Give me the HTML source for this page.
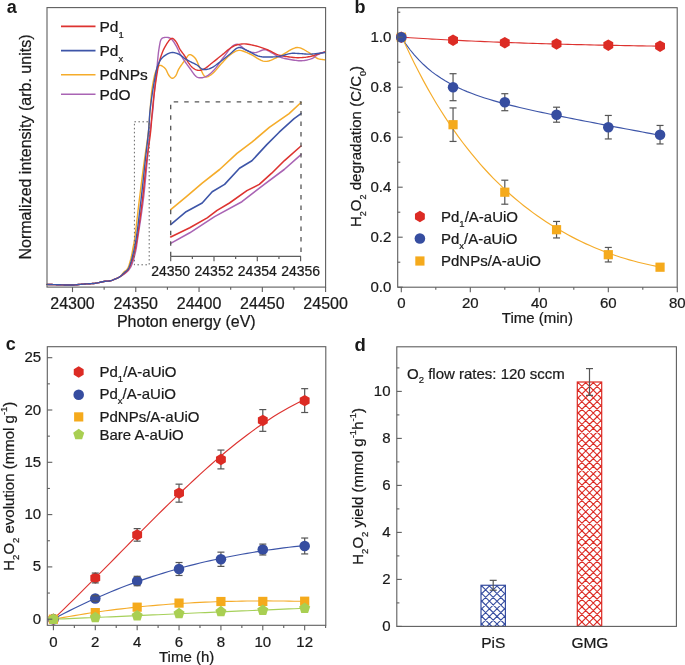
<!DOCTYPE html>
<html><head><meta charset="utf-8"><style>
html,body{margin:0;padding:0;background:#fff;width:685px;height:665px;overflow:hidden}
#w{will-change:transform;width:685px;height:665px;background:#fff}
svg{display:block}
text{font-family:"Liberation Sans",sans-serif;stroke:#1a1a1a;stroke-width:0.22px}
</style></head><body><div id="w">
<svg width="685" height="665" viewBox="0 0 685 665" font-family="Liberation Sans" fill="#1a1a1a">
<rect width="685" height="665" fill="#fff"/>
<text x="6.7" y="12.8" font-size="18" text-anchor="start" font-weight="bold" style="stroke-width:0" >a</text>
<path d="M47,284.4 L48.63,284.45 L50.26,284.5 L51.9,284.56 L53.53,284.61 L55.16,284.66 L56.79,284.71 L58.4,284.76 L60,284.8 L61.52,284.84 L63.02,284.89 L64.51,284.94 L66,284.98 L67.49,285.02 L68.98,285.03 L70.48,285.03 L72,285 L73.61,284.93 L75.25,284.83 L76.91,284.71 L78.57,284.56 L80.23,284.41 L81.86,284.26 L83.45,284.12 L85,284 L86.31,283.91 L87.59,283.84 L88.85,283.78 L90.09,283.72 L91.31,283.65 L92.54,283.56 L93.76,283.45 L95,283.3 L96.28,283.1 L97.59,282.85 L98.9,282.57 L100.22,282.28 L101.5,281.98 L102.74,281.71 L103.91,281.48 L105,281.3 L105.71,281.22 L106.37,281.17 L107,281.14 L107.61,281.13 L108.21,281.11 L108.8,281.07 L109.39,281 L110,280.9 L110.62,280.75 L111.24,280.58 L111.85,280.39 L112.47,280.17 L113.08,279.95 L113.69,279.7 L114.29,279.45 L114.9,279.2 L115.54,278.94 L116.18,278.67 L116.83,278.4 L117.47,278.12 L118.11,277.81 L118.73,277.48 L119.33,277.11 L119.9,276.7 L120.47,276.21 L121.02,275.65 L121.54,275.04 L122.04,274.41 L122.53,273.77 L123.02,273.14 L123.51,272.55 L124,272 L124.43,271.59 L124.86,271.23 L125.29,270.89 L125.71,270.56 L126.13,270.21 L126.54,269.83 L126.93,269.4 L127.3,268.9 L127.81,268.03 L128.28,267.04 L128.72,265.96 L129.13,264.79 L129.52,263.57 L129.89,262.32 L130.25,261.05 L130.6,259.8 L130.98,258.33 L131.34,256.78 L131.67,255.17 L131.98,253.53 L132.28,251.91 L132.56,250.33 L132.83,248.81 L133.1,247.4 L133.29,246.43 L133.47,245.56 L133.64,244.75 L133.8,243.96 L133.97,243.13 L134.13,242.23 L134.31,241.2 L134.5,240 L135,236.52 L135.54,232.21 L136.14,227.27 L136.76,221.9 L137.4,216.29 L138.04,210.64 L138.68,205.14 L139.3,200 L139.88,195.29 L140.46,190.59 L141.05,185.92 L141.63,181.27 L142.22,176.65 L142.81,172.06 L143.4,167.51 L144,163 L144.59,158.75 L145.21,154.48 L145.85,150.21 L146.48,145.99 L147.09,141.84 L147.66,137.8 L148.17,133.91 L148.6,130.2 L148.87,127.45 L149.09,124.84 L149.27,122.33 L149.43,119.88 L149.58,117.45 L149.73,115.02 L149.9,112.55 L150.1,110 L150.33,107.19 L150.55,104.3 L150.77,101.38 L151.01,98.44 L151.27,95.53 L151.57,92.66 L151.91,89.87 L152.3,87.2 L152.67,84.93 L153.06,82.64 L153.48,80.37 L153.92,78.16 L154.4,76.04 L154.92,74.07 L155.48,72.27 L156.1,70.7 L156.5,69.8 L156.91,68.91 L157.33,68.06 L157.77,67.28 L158.24,66.6 L158.73,66.04 L159.24,65.63 L159.8,65.4 L160.39,65.37 L161.05,65.52 L161.74,65.81 L162.46,66.22 L163.17,66.71 L163.86,67.26 L164.51,67.83 L165.1,68.4 L165.7,69.13 L166.22,69.99 L166.7,70.94 L167.15,71.94 L167.59,72.94 L168.03,73.9 L168.49,74.77 L169,75.5 L169.39,75.98 L169.8,76.47 L170.21,76.93 L170.62,77.36 L171.04,77.73 L171.46,78.02 L171.88,78.22 L172.3,78.3 L172.7,78.26 L173.11,78.12 L173.53,77.89 L173.94,77.59 L174.35,77.24 L174.75,76.84 L175.14,76.43 L175.5,76 L175.96,75.36 L176.36,74.61 L176.72,73.79 L177.08,72.9 L177.43,71.98 L177.81,71.04 L178.22,70.11 L178.7,69.2 L179.37,68.09 L180.1,66.93 L180.9,65.75 L181.72,64.55 L182.57,63.37 L183.41,62.22 L184.23,61.12 L185,60.1 L185.59,59.27 L186.15,58.39 L186.7,57.51 L187.25,56.66 L187.81,55.9 L188.38,55.28 L188.97,54.83 L189.6,54.6 L190.24,54.6 L190.91,54.78 L191.61,55.11 L192.32,55.56 L193.03,56.1 L193.72,56.7 L194.38,57.35 L195,58 L195.74,58.96 L196.4,60.08 L197.02,61.33 L197.6,62.66 L198.17,64.04 L198.75,65.41 L199.35,66.75 L200,68 L200.66,69.25 L201.31,70.61 L201.98,72 L202.65,73.36 L203.36,74.61 L204.09,75.66 L204.87,76.45 L205.7,76.9 L206.41,77 L207.16,76.9 L207.93,76.64 L208.73,76.25 L209.54,75.76 L210.36,75.2 L211.18,74.6 L212,74 L213.21,73 L214.46,71.77 L215.72,70.38 L217,68.88 L218.27,67.33 L219.54,65.8 L220.79,64.34 L222,63 L223.02,61.91 L224.01,60.82 L224.99,59.75 L225.95,58.71 L226.92,57.7 L227.91,56.74 L228.94,55.84 L230,55 L231.03,54.24 L232.08,53.48 L233.14,52.74 L234.23,52.05 L235.34,51.45 L236.47,50.95 L237.62,50.59 L238.8,50.4 L240.11,50.4 L241.45,50.61 L242.82,50.99 L244.22,51.49 L245.63,52.08 L247.07,52.72 L248.53,53.37 L250,54 L251.79,54.85 L253.62,55.92 L255.48,57.1 L257.37,58.31 L259.27,59.43 L261.18,60.39 L263.1,61.08 L265,61.4 L266.85,61.34 L268.71,60.98 L270.57,60.39 L272.44,59.62 L274.31,58.74 L276.2,57.8 L278.09,56.87 L280,56 L282.14,54.96 L284.33,53.69 L286.56,52.31 L288.79,50.92 L290.99,49.63 L293.15,48.56 L295.23,47.81 L297.2,47.5 L298.67,47.58 L300.09,47.89 L301.47,48.38 L302.82,49.01 L304.14,49.73 L305.44,50.5 L306.72,51.27 L308,52 L309.26,52.75 L310.49,53.61 L311.7,54.52 L312.9,55.45 L314.08,56.36 L315.26,57.2 L316.43,57.93 L317.6,58.5 L318.54,58.84 L319.47,59.09 L320.4,59.28 L321.32,59.41 L322.24,59.53 L323.16,59.63 L324.08,59.75 L325,59.9" fill="none" stroke="#f5ac2a" stroke-width="1.4" stroke-linejoin="round" stroke-linecap="round" />
<path d="M47,284.4 L48.63,284.45 L50.26,284.5 L51.9,284.56 L53.53,284.61 L55.16,284.66 L56.79,284.71 L58.4,284.76 L60,284.8 L61.52,284.84 L63.02,284.89 L64.51,284.94 L66,284.98 L67.49,285.02 L68.98,285.03 L70.48,285.03 L72,285 L73.61,284.93 L75.25,284.83 L76.91,284.71 L78.57,284.56 L80.23,284.41 L81.86,284.26 L83.45,284.12 L85,284 L86.31,283.91 L87.59,283.84 L88.85,283.78 L90.09,283.72 L91.31,283.65 L92.54,283.56 L93.76,283.45 L95,283.3 L96.28,283.1 L97.59,282.85 L98.9,282.57 L100.22,282.28 L101.5,281.98 L102.74,281.71 L103.91,281.48 L105,281.3 L105.71,281.22 L106.37,281.17 L107,281.14 L107.61,281.13 L108.21,281.11 L108.8,281.07 L109.39,281 L110,280.9 L110.62,280.75 L111.24,280.58 L111.85,280.39 L112.47,280.17 L113.08,279.95 L113.69,279.7 L114.29,279.45 L114.9,279.2 L115.53,278.93 L116.16,278.64 L116.79,278.34 L117.41,278.03 L118.04,277.71 L118.66,277.38 L119.28,277.05 L119.9,276.7 L120.55,276.33 L121.21,275.95 L121.88,275.56 L122.54,275.16 L123.19,274.75 L123.82,274.34 L124.43,273.92 L125,273.5 L125.46,273.14 L125.91,272.79 L126.34,272.44 L126.75,272.09 L127.15,271.72 L127.54,271.34 L127.92,270.93 L128.3,270.5 L128.72,269.98 L129.13,269.46 L129.53,268.91 L129.92,268.34 L130.29,267.73 L130.67,267.08 L131.03,266.37 L131.4,265.6 L131.98,264.2 L132.56,262.6 L133.13,260.85 L133.69,258.99 L134.22,257.08 L134.72,255.16 L135.18,253.28 L135.6,251.5 L135.93,249.97 L136.21,248.52 L136.44,247.11 L136.66,245.7 L136.87,244.23 L137.08,242.67 L137.32,240.98 L137.6,239.1 L138.19,235.25 L138.88,230.84 L139.62,226 L140.4,220.86 L141.18,215.55 L141.95,210.22 L142.66,204.99 L143.3,200 L143.85,195.32 L144.36,190.63 L144.84,185.96 L145.29,181.3 L145.72,176.67 L146.15,172.07 L146.57,167.51 L147,163 L147.4,158.75 L147.79,154.47 L148.17,150.21 L148.54,145.98 L148.92,141.83 L149.3,137.79 L149.69,133.9 L150.1,130.2 L150.45,127.4 L150.82,124.69 L151.21,122.04 L151.6,119.48 L151.97,116.99 L152.32,114.58 L152.64,112.25 L152.9,110 L153.06,108.37 L153.18,106.86 L153.28,105.43 L153.37,104.03 L153.45,102.62 L153.54,101.14 L153.66,99.55 L153.8,97.8 L154.08,94.77 L154.42,91.39 L154.8,87.76 L155.2,83.98 L155.61,80.13 L156.03,76.33 L156.43,72.65 L156.8,69.2 L157.09,66.35 L157.36,63.49 L157.62,60.66 L157.88,57.89 L158.15,55.22 L158.43,52.67 L158.75,50.29 L159.1,48.1 L159.33,46.72 L159.55,45.35 L159.77,44.04 L160,42.79 L160.26,41.64 L160.57,40.6 L160.95,39.72 L161.4,39 L161.71,38.66 L162.04,38.38 L162.38,38.14 L162.75,37.95 L163.13,37.8 L163.53,37.68 L163.96,37.58 L164.4,37.5 L165.05,37.42 L165.77,37.37 L166.55,37.37 L167.35,37.42 L168.15,37.53 L168.95,37.71 L169.7,37.96 L170.4,38.3 L171.17,38.84 L171.89,39.52 L172.58,40.32 L173.24,41.21 L173.88,42.16 L174.5,43.15 L175.1,44.14 L175.7,45.1 L176.32,46.15 L176.9,47.25 L177.45,48.4 L177.99,49.56 L178.52,50.73 L179.06,51.88 L179.62,53.01 L180.2,54.1 L180.77,55.09 L181.35,56.05 L181.95,57 L182.55,57.94 L183.15,58.86 L183.76,59.78 L184.38,60.69 L185,61.6 L185.61,62.48 L186.21,63.35 L186.82,64.2 L187.44,65.05 L188.06,65.9 L188.7,66.76 L189.34,67.62 L190,68.5 L190.74,69.53 L191.5,70.64 L192.28,71.78 L193.06,72.92 L193.86,74.01 L194.65,75 L195.43,75.85 L196.2,76.5 L196.67,76.82 L197.13,77.08 L197.59,77.29 L198.05,77.46 L198.51,77.59 L198.99,77.69 L199.48,77.76 L200,77.8 L200.68,77.81 L201.4,77.78 L202.14,77.69 L202.9,77.55 L203.68,77.37 L204.46,77.13 L205.23,76.84 L206,76.5 L206.99,75.97 L207.99,75.33 L209,74.6 L210.01,73.79 L211.02,72.91 L212.03,71.97 L213.02,71 L214,70 L215.15,68.72 L216.28,67.32 L217.38,65.83 L218.48,64.28 L219.59,62.7 L220.7,61.11 L221.83,59.53 L223,58 L224.27,56.34 L225.58,54.56 L226.93,52.72 L228.29,50.9 L229.63,49.19 L230.95,47.67 L232.21,46.41 L233.4,45.5 L234,45.15 L234.58,44.85 L235.14,44.62 L235.69,44.45 L236.25,44.34 L236.81,44.29 L237.39,44.31 L238,44.4 L238.91,44.72 L239.86,45.27 L240.83,46.01 L241.83,46.86 L242.85,47.74 L243.88,48.61 L244.94,49.38 L246,50 L247.05,50.49 L248.11,50.97 L249.2,51.4 L250.29,51.79 L251.41,52.12 L252.53,52.37 L253.66,52.54 L254.8,52.6 L256.05,52.47 L257.35,52.12 L258.66,51.62 L259.99,51.06 L261.3,50.51 L262.58,50.05 L263.82,49.75 L265,49.7 L265.95,49.85 L266.86,50.14 L267.73,50.53 L268.59,50.99 L269.43,51.49 L270.27,52.02 L271.13,52.53 L272,53 L272.93,53.49 L273.85,54 L274.76,54.53 L275.68,55.07 L276.62,55.6 L277.58,56.1 L278.57,56.58 L279.6,57 L280.8,57.42 L282.04,57.8 L283.32,58.15 L284.63,58.46 L285.96,58.75 L287.31,59.02 L288.66,59.26 L290,59.5 L291.41,59.74 L292.84,59.98 L294.29,60.21 L295.74,60.41 L297.2,60.57 L298.65,60.68 L300.09,60.73 L301.5,60.7 L302.86,60.6 L304.25,60.45 L305.63,60.25 L307,59.99 L308.34,59.69 L309.63,59.33 L310.86,58.94 L312,58.5 L312.86,58.08 L313.64,57.61 L314.38,57.08 L315.09,56.53 L315.79,55.98 L316.49,55.45 L317.22,54.94 L318,54.5 L318.83,54.1 L319.69,53.75 L320.56,53.42 L321.44,53.11 L322.34,52.81 L323.23,52.52 L324.12,52.21 L325,51.9" fill="none" stroke="#a964b4" stroke-width="1.4" stroke-linejoin="round" stroke-linecap="round" />
<path d="M47,284.4 L48.63,284.45 L50.26,284.5 L51.9,284.56 L53.53,284.61 L55.16,284.66 L56.79,284.71 L58.4,284.76 L60,284.8 L61.52,284.84 L63.02,284.89 L64.51,284.94 L66,284.98 L67.49,285.02 L68.98,285.03 L70.48,285.03 L72,285 L73.61,284.93 L75.25,284.83 L76.91,284.71 L78.57,284.56 L80.23,284.41 L81.86,284.26 L83.45,284.12 L85,284 L86.31,283.91 L87.59,283.84 L88.85,283.78 L90.09,283.72 L91.31,283.65 L92.54,283.56 L93.76,283.45 L95,283.3 L96.28,283.1 L97.59,282.85 L98.9,282.57 L100.22,282.28 L101.5,281.98 L102.74,281.71 L103.91,281.48 L105,281.3 L105.71,281.22 L106.37,281.17 L107,281.14 L107.61,281.13 L108.21,281.11 L108.8,281.07 L109.39,281 L110,280.9 L110.62,280.75 L111.24,280.58 L111.85,280.39 L112.47,280.17 L113.08,279.95 L113.69,279.7 L114.29,279.45 L114.9,279.2 L115.53,278.93 L116.16,278.65 L116.8,278.36 L117.43,278.06 L118.05,277.74 L118.67,277.41 L119.29,277.07 L119.9,276.7 L120.54,276.29 L121.18,275.85 L121.82,275.39 L122.45,274.91 L123.07,274.42 L123.67,273.94 L124.25,273.46 L124.8,273 L125.25,272.63 L125.68,272.28 L126.09,271.94 L126.5,271.6 L126.89,271.24 L127.27,270.86 L127.64,270.45 L128,270 L128.43,269.39 L128.83,268.74 L129.21,268.05 L129.58,267.32 L129.94,266.55 L130.29,265.74 L130.65,264.89 L131,264 L131.51,262.62 L132.02,261.1 L132.53,259.48 L133.03,257.79 L133.51,256.06 L133.97,254.33 L134.4,252.63 L134.8,251 L135.13,249.58 L135.43,248.25 L135.7,246.95 L135.95,245.65 L136.19,244.3 L136.44,242.85 L136.71,241.27 L137,239.5 L137.6,235.69 L138.26,231.26 L138.95,226.37 L139.67,221.16 L140.39,215.76 L141.1,210.34 L141.77,205.04 L142.4,200 L142.95,195.3 L143.47,190.62 L143.96,185.94 L144.43,181.29 L144.9,176.66 L145.38,172.06 L145.88,167.51 L146.4,163 L146.94,158.75 L147.52,154.47 L148.12,150.21 L148.73,145.98 L149.32,141.84 L149.87,137.8 L150.37,133.91 L150.8,130.2 L151.07,127.47 L151.28,124.91 L151.46,122.45 L151.62,120.05 L151.78,117.66 L151.95,115.22 L152.15,112.68 L152.4,110 L152.76,106.46 L153.17,102.69 L153.6,98.79 L154.07,94.81 L154.56,90.84 L155.06,86.95 L155.58,83.21 L156.1,79.7 L156.51,77.01 L156.92,74.4 L157.32,71.85 L157.74,69.37 L158.19,66.96 L158.67,64.61 L159.2,62.33 L159.8,60.1 L160.35,58.24 L160.92,56.42 L161.52,54.64 L162.15,52.91 L162.82,51.23 L163.53,49.61 L164.29,48.07 L165.1,46.6 L165.86,45.31 L166.69,43.95 L167.56,42.59 L168.46,41.3 L169.36,40.16 L170.25,39.23 L171.1,38.59 L171.9,38.3 L172.41,38.33 L172.9,38.51 L173.39,38.81 L173.87,39.22 L174.34,39.69 L174.8,40.22 L175.25,40.76 L175.7,41.3 L176.3,42.12 L176.88,43.06 L177.43,44.11 L177.97,45.22 L178.51,46.36 L179.05,47.49 L179.61,48.58 L180.2,49.6 L180.78,50.5 L181.39,51.37 L182.02,52.23 L182.65,53.08 L183.27,53.91 L183.88,54.74 L184.46,55.57 L185,56.4 L185.44,57.15 L185.84,57.9 L186.22,58.65 L186.58,59.39 L186.95,60.13 L187.33,60.86 L187.74,61.59 L188.2,62.3 L188.72,63.06 L189.27,63.84 L189.83,64.62 L190.42,65.38 L191.04,66.12 L191.67,66.81 L192.33,67.44 L193,68 L193.62,68.45 L194.27,68.87 L194.94,69.25 L195.62,69.6 L196.31,69.89 L197.01,70.13 L197.7,70.3 L198.4,70.4 L199.08,70.42 L199.77,70.38 L200.46,70.27 L201.16,70.1 L201.86,69.89 L202.56,69.63 L203.28,69.33 L204,69 L204.96,68.48 L205.93,67.86 L206.91,67.14 L207.91,66.36 L208.91,65.53 L209.93,64.68 L210.96,63.83 L212,63 L213.2,62.06 L214.42,61.09 L215.65,60.1 L216.9,59.09 L218.17,58.07 L219.44,57.04 L220.72,56.02 L222,55 L223.34,53.91 L224.69,52.75 L226.05,51.57 L227.42,50.39 L228.8,49.26 L230.19,48.21 L231.59,47.28 L233,46.5 L234.23,45.93 L235.45,45.44 L236.68,45.02 L237.93,44.66 L239.18,44.37 L240.46,44.15 L241.76,43.99 L243.1,43.9 L244.67,43.89 L246.29,44 L247.96,44.2 L249.65,44.48 L251.34,44.82 L253.03,45.2 L254.69,45.6 L256.3,46 L257.82,46.4 L259.32,46.84 L260.8,47.31 L262.28,47.81 L263.73,48.34 L265.17,48.88 L266.59,49.44 L268,50 L269.32,50.57 L270.61,51.2 L271.89,51.85 L273.15,52.51 L274.4,53.16 L275.66,53.77 L276.92,54.33 L278.2,54.8 L279.41,55.17 L280.63,55.5 L281.84,55.78 L283.06,56.02 L284.28,56.24 L285.51,56.44 L286.75,56.62 L288,56.8 L289.3,56.98 L290.61,57.16 L291.92,57.31 L293.25,57.45 L294.58,57.56 L295.91,57.64 L297.25,57.69 L298.6,57.7 L300.02,57.67 L301.47,57.6 L302.94,57.49 L304.41,57.35 L305.87,57.18 L307.3,56.98 L308.68,56.75 L310,56.5 L311.08,56.25 L312.13,55.96 L313.14,55.65 L314.13,55.32 L315.11,54.98 L316.07,54.64 L317.04,54.31 L318,54 L318.9,53.73 L319.78,53.46 L320.66,53.2 L321.53,52.94 L322.39,52.68 L323.26,52.42 L324.13,52.16 L325,51.9" fill="none" stroke="#dd3330" stroke-width="1.4" stroke-linejoin="round" stroke-linecap="round" />
<path d="M47,284.4 L48.63,284.45 L50.26,284.5 L51.9,284.56 L53.53,284.61 L55.16,284.66 L56.79,284.71 L58.4,284.76 L60,284.8 L61.52,284.84 L63.02,284.89 L64.51,284.94 L66,284.98 L67.49,285.02 L68.98,285.03 L70.48,285.03 L72,285 L73.61,284.93 L75.25,284.83 L76.91,284.71 L78.57,284.56 L80.23,284.41 L81.86,284.26 L83.45,284.12 L85,284 L86.31,283.91 L87.59,283.84 L88.85,283.78 L90.09,283.72 L91.31,283.65 L92.54,283.56 L93.76,283.45 L95,283.3 L96.28,283.1 L97.59,282.85 L98.9,282.57 L100.22,282.28 L101.5,281.98 L102.74,281.71 L103.91,281.48 L105,281.3 L105.71,281.22 L106.37,281.17 L107,281.14 L107.61,281.13 L108.21,281.11 L108.8,281.07 L109.39,281 L110,280.9 L110.62,280.75 L111.24,280.58 L111.85,280.39 L112.47,280.17 L113.08,279.95 L113.69,279.7 L114.29,279.45 L114.9,279.2 L115.53,278.93 L116.17,278.66 L116.81,278.38 L117.44,278.09 L118.07,277.78 L118.7,277.44 L119.31,277.09 L119.9,276.7 L120.51,276.25 L121.12,275.75 L121.71,275.21 L122.29,274.66 L122.86,274.09 L123.42,273.54 L123.97,273 L124.5,272.5 L124.94,272.11 L125.38,271.76 L125.82,271.43 L126.24,271.1 L126.65,270.75 L127.05,270.38 L127.43,269.97 L127.8,269.5 L128.25,268.8 L128.67,268.03 L129.06,267.2 L129.43,266.32 L129.79,265.4 L130.13,264.45 L130.47,263.48 L130.8,262.5 L131.19,261.31 L131.55,260.06 L131.9,258.78 L132.23,257.46 L132.56,256.11 L132.87,254.75 L133.19,253.38 L133.5,252 L133.83,250.54 L134.15,249.12 L134.46,247.71 L134.76,246.27 L135.06,244.76 L135.37,243.15 L135.68,241.41 L136,239.5 L136.6,235.62 L137.22,231.16 L137.86,226.26 L138.51,221.06 L139.16,215.7 L139.79,210.31 L140.41,205.03 L141,200 L141.54,195.3 L142.06,190.62 L142.57,185.94 L143.06,181.29 L143.55,176.66 L144.03,172.07 L144.51,167.51 L145,163 L145.47,158.75 L145.96,154.48 L146.44,150.21 L146.93,145.98 L147.4,141.84 L147.84,137.8 L148.24,133.91 L148.6,130.2 L148.83,127.47 L149.01,124.9 L149.16,122.45 L149.3,120.05 L149.45,117.65 L149.62,115.22 L149.83,112.68 L150.1,110 L150.52,106.42 L151.02,102.56 L151.58,98.55 L152.17,94.47 L152.79,90.44 L153.41,86.57 L154.02,82.95 L154.6,79.7 L154.96,77.71 L155.29,75.82 L155.61,74.02 L155.93,72.31 L156.28,70.67 L156.66,69.09 L157.09,67.57 L157.6,66.1 L158.05,64.93 L158.5,63.79 L158.98,62.69 L159.49,61.64 L160.05,60.63 L160.66,59.67 L161.34,58.76 L162.1,57.9 L163.02,57.02 L164.05,56.15 L165.16,55.33 L166.34,54.56 L167.55,53.88 L168.76,53.31 L169.95,52.88 L171.1,52.6 L172.07,52.5 L173.04,52.51 L174.02,52.62 L174.99,52.81 L175.95,53.07 L176.89,53.38 L177.81,53.73 L178.7,54.1 L179.55,54.53 L180.38,55.04 L181.18,55.62 L181.97,56.24 L182.73,56.87 L183.49,57.49 L184.25,58.08 L185,58.6 L185.64,59.01 L186.26,59.39 L186.86,59.75 L187.47,60.1 L188.07,60.45 L188.69,60.79 L189.33,61.14 L190,61.5 L190.82,61.92 L191.68,62.34 L192.57,62.76 L193.48,63.18 L194.39,63.61 L195.29,64.05 L196.16,64.51 L197,65 L197.76,65.53 L198.48,66.13 L199.18,66.77 L199.87,67.41 L200.56,68.02 L201.27,68.56 L202.01,69 L202.8,69.3 L203.63,69.47 L204.49,69.55 L205.38,69.54 L206.28,69.45 L207.2,69.3 L208.13,69.08 L209.07,68.81 L210,68.5 L211.21,67.99 L212.45,67.34 L213.7,66.57 L214.97,65.71 L216.24,64.8 L217.5,63.85 L218.76,62.91 L220,62 L221.27,61.05 L222.54,60.07 L223.8,59.05 L225.05,58.02 L226.3,56.98 L227.54,55.96 L228.78,54.96 L230,54 L231.11,53.07 L232.21,52.07 L233.29,51.04 L234.37,50.04 L235.45,49.13 L236.55,48.37 L237.66,47.81 L238.8,47.5 L239.91,47.48 L241.02,47.69 L242.16,48.07 L243.3,48.59 L244.46,49.19 L245.63,49.82 L246.81,50.44 L248,51 L249.35,51.63 L250.73,52.33 L252.12,53.09 L253.52,53.85 L254.93,54.59 L256.35,55.27 L257.78,55.85 L259.2,56.3 L260.54,56.59 L261.89,56.8 L263.25,56.93 L264.62,57 L265.98,57.03 L267.34,57.03 L268.68,57.01 L270,57 L271.22,56.99 L272.42,56.96 L273.61,56.91 L274.79,56.84 L275.97,56.75 L277.16,56.63 L278.37,56.48 L279.6,56.3 L281.02,56.02 L282.49,55.65 L283.98,55.23 L285.49,54.78 L286.98,54.34 L288.46,53.94 L289.91,53.62 L291.3,53.4 L292.44,53.31 L293.54,53.27 L294.61,53.28 L295.68,53.33 L296.73,53.4 L297.8,53.48 L298.89,53.55 L300,53.6 L301.23,53.66 L302.47,53.74 L303.72,53.84 L304.98,53.93 L306.27,54.02 L307.58,54.08 L308.92,54.11 L310.3,54.1 L312.01,54.02 L313.79,53.89 L315.62,53.7 L317.49,53.49 L319.37,53.26 L321.26,53.03 L323.14,52.8 L325,52.6" fill="none" stroke="#3d55a8" stroke-width="1.4" stroke-linejoin="round" stroke-linecap="round" />
<rect x="47" y="7.6" width="278.6" height="279.5" fill="none" stroke="#5e5e5e" stroke-width="1.1"/>
<line x1="72.5" y1="287.1" x2="72.5" y2="292.1" stroke="#5e5e5e" stroke-width="1.1" />
<text x="72.5" y="308.7" font-size="16" text-anchor="middle" >24300</text>
<line x1="104.14" y1="287.1" x2="104.14" y2="289.7" stroke="#5e5e5e" stroke-width="1.1" />
<line x1="135.78" y1="287.1" x2="135.78" y2="292.1" stroke="#5e5e5e" stroke-width="1.1" />
<text x="135.78" y="308.7" font-size="16" text-anchor="middle" >24350</text>
<line x1="167.41" y1="287.1" x2="167.41" y2="289.7" stroke="#5e5e5e" stroke-width="1.1" />
<line x1="199.05" y1="287.1" x2="199.05" y2="292.1" stroke="#5e5e5e" stroke-width="1.1" />
<text x="199.05" y="308.7" font-size="16" text-anchor="middle" >24400</text>
<line x1="230.69" y1="287.1" x2="230.69" y2="289.7" stroke="#5e5e5e" stroke-width="1.1" />
<line x1="262.33" y1="287.1" x2="262.33" y2="292.1" stroke="#5e5e5e" stroke-width="1.1" />
<text x="262.33" y="308.7" font-size="16" text-anchor="middle" >24450</text>
<line x1="293.96" y1="287.1" x2="293.96" y2="289.7" stroke="#5e5e5e" stroke-width="1.1" />
<line x1="325.6" y1="287.1" x2="325.6" y2="292.1" stroke="#5e5e5e" stroke-width="1.1" />
<text x="325.6" y="308.7" font-size="16" text-anchor="middle" >24500</text>
<text x="186.3" y="327.2" font-size="16" text-anchor="middle" >Photon energy (eV)</text>
<text x="0" y="0" font-size="16" text-anchor="middle" transform="translate(31,147) rotate(-90)">Normalized intensity (arb. units)</text>
<line x1="61" y1="26.4" x2="95.5" y2="26.4" stroke="#dd3330" stroke-width="1.6" />
<text x="99.5" y="31.8" font-size="15.5" text-anchor="start" >Pd<tspan font-size="9.5" dy="6">1</tspan></text>
<line x1="61" y1="50.6" x2="95.5" y2="50.6" stroke="#3d55a8" stroke-width="1.6" />
<text x="99.5" y="56" font-size="15.5" text-anchor="start" >Pd<tspan font-size="9.5" dy="6.3">x</tspan></text>
<line x1="61" y1="74.8" x2="95.5" y2="74.8" stroke="#f5ac2a" stroke-width="1.6" />
<text x="99.5" y="80.2" font-size="15.5" text-anchor="start" >PdNPs</text>
<line x1="61" y1="94.2" x2="95.5" y2="94.2" stroke="#a964b4" stroke-width="1.6" />
<text x="99.5" y="99.6" font-size="15.5" text-anchor="start" >PdO</text>
<rect x="134.4" y="121.8" width="14.8" height="143" fill="none" stroke="#6a6a6a" stroke-width="1" stroke-dasharray="1.6 2.4"/>
<path d="M170.7,209.7 L186.1,196.8 L202.2,183.1 L219.6,169.5 L237,153.3 L251.9,142.2 L269.3,127.3 L289.1,113.6 L301,102.5" fill="none" stroke="#f5ac2a" stroke-width="1.6" stroke-linejoin="round" stroke-linecap="round" />
<path d="M170.7,224.6 L186.1,211.7 L202.2,203 L212.2,191.8 L224.6,184.4 L239.5,168.2 L251.9,160.8 L266.8,144.6 L279.2,132.2 L294.1,118.6 L301,113.6" fill="none" stroke="#3d55a8" stroke-width="1.6" stroke-linejoin="round" stroke-linecap="round" />
<path d="M170.7,237 L189.8,227.8 L207.2,217.9 L217.1,210.4 L229.5,203 L246.9,190.6 L259.3,184.4 L271.7,173.2 L284.2,160.8 L301,146" fill="none" stroke="#dd3330" stroke-width="1.6" stroke-linejoin="round" stroke-linecap="round" />
<path d="M170.7,243.4 L189.8,232.8 L214.6,216.6 L241.9,201.7 L264.3,184.4 L284.2,169.5 L301,154.6" fill="none" stroke="#a964b4" stroke-width="1.6" stroke-linejoin="round" stroke-linecap="round" />
<path d="M170.7,256.3 V101.8 H301 V256.3" fill="none" stroke="#555" stroke-width="1.3" stroke-dasharray="4.5 6"/>
<line x1="170.7" y1="256.3" x2="301" y2="256.3" stroke="#5e5e5e" stroke-width="1.3" />
<line x1="170.7" y1="256.3" x2="170.7" y2="261.3" stroke="#5e5e5e" stroke-width="1.2" />
<text x="170.7" y="276" font-size="14" text-anchor="middle" >24350</text>
<line x1="192.35" y1="256.3" x2="192.35" y2="259" stroke="#5e5e5e" stroke-width="1.2" />
<line x1="214" y1="256.3" x2="214" y2="261.3" stroke="#5e5e5e" stroke-width="1.2" />
<text x="214" y="276" font-size="14" text-anchor="middle" >24352</text>
<line x1="235.65" y1="256.3" x2="235.65" y2="259" stroke="#5e5e5e" stroke-width="1.2" />
<line x1="257.3" y1="256.3" x2="257.3" y2="261.3" stroke="#5e5e5e" stroke-width="1.2" />
<text x="257.3" y="276" font-size="14" text-anchor="middle" >24354</text>
<line x1="278.95" y1="256.3" x2="278.95" y2="259" stroke="#5e5e5e" stroke-width="1.2" />
<line x1="300.6" y1="256.3" x2="300.6" y2="261.3" stroke="#5e5e5e" stroke-width="1.2" />
<text x="300.6" y="276" font-size="14" text-anchor="middle" >24356</text>
<text x="354.4" y="12.8" font-size="18" text-anchor="start" font-weight="bold" style="stroke-width:0" >b</text>
<path d="M401.3,37.15 L405.69,37.44 L410.07,37.73 L414.46,38.01 L418.84,38.28 L423.23,38.55 L427.61,38.8 L432,39.06 L436.38,39.3 L440.77,39.54 L445.16,39.77 L449.54,40 L453.93,40.22 L458.31,40.44 L462.7,40.65 L467.08,40.85 L471.47,41.05 L475.86,41.24 L480.24,41.43 L484.63,41.62 L489.01,41.8 L493.4,41.97 L497.78,42.14 L502.17,42.31 L506.55,42.47 L510.94,42.63 L515.33,42.78 L519.71,42.93 L524.1,43.08 L528.48,43.22 L532.87,43.36 L537.25,43.5 L541.64,43.63 L546.02,43.76 L550.41,43.88 L554.8,44.01 L559.18,44.12 L563.57,44.24 L567.95,44.35 L572.34,44.46 L576.72,44.57 L581.11,44.68 L585.49,44.78 L589.88,44.88 L594.27,44.97 L598.65,45.07 L603.04,45.16 L607.42,45.25 L611.81,45.34 L616.19,45.42 L620.58,45.51 L624.97,45.59 L629.35,45.66 L633.74,45.74 L638.12,45.82 L642.51,45.89 L646.89,45.96 L651.28,46.03 L655.66,46.1 L660.05,46.16" fill="none" stroke="#dd3330" stroke-width="1.15" stroke-linejoin="round" stroke-linecap="round" />
<path d="M401.3,37.2 L405.69,43.82 L410.07,49.76 L414.46,55.11 L418.84,59.94 L423.23,64.3 L427.61,68.25 L432,71.84 L436.38,75.1 L440.77,78.09 L445.16,80.82 L449.54,83.33 L453.93,85.64 L458.31,87.78 L462.7,89.76 L467.08,91.61 L471.47,93.34 L475.86,94.97 L480.24,96.5 L484.63,97.95 L489.01,99.32 L493.4,100.63 L497.78,101.88 L502.17,103.08 L506.55,104.24 L510.94,105.35 L515.33,106.43 L519.71,107.48 L524.1,108.51 L528.48,109.51 L532.87,110.48 L537.25,111.44 L541.64,112.38 L546.02,113.31 L550.41,114.22 L554.8,115.12 L559.18,116.02 L563.57,116.9 L567.95,117.77 L572.34,118.64 L576.72,119.5 L581.11,120.36 L585.49,121.21 L589.88,122.06 L594.27,122.9 L598.65,123.74 L603.04,124.57 L607.42,125.41 L611.81,126.24 L616.19,127.07 L620.58,127.9 L624.97,128.72 L629.35,129.55 L633.74,130.37 L638.12,131.19 L642.51,132.01 L646.89,132.83 L651.28,133.65 L655.66,134.47 L660.05,135.29" fill="none" stroke="#3d55a8" stroke-width="1.15" stroke-linejoin="round" stroke-linecap="round" />
<path d="M401.3,35.77 L405.69,45.37 L410.07,54.61 L414.46,63.52 L418.84,72.11 L423.23,80.38 L427.61,88.35 L432,96.02 L436.38,103.42 L440.77,110.55 L445.16,117.42 L449.54,124.04 L453.93,130.42 L458.31,136.56 L462.7,142.48 L467.08,148.19 L471.47,153.68 L475.86,158.98 L480.24,164.09 L484.63,169 L489.01,173.74 L493.4,178.31 L497.78,182.71 L502.17,186.95 L506.55,191.03 L510.94,194.97 L515.33,198.76 L519.71,202.41 L524.1,205.93 L528.48,209.32 L532.87,212.59 L537.25,215.74 L541.64,218.78 L546.02,221.7 L550.41,224.52 L554.8,227.23 L559.18,229.85 L563.57,232.37 L567.95,234.8 L572.34,237.13 L576.72,239.38 L581.11,241.54 L585.49,243.61 L589.88,245.59 L594.27,247.49 L598.65,249.31 L603.04,251.04 L607.42,252.7 L611.81,254.28 L616.19,255.78 L620.58,257.21 L624.97,258.56 L629.35,259.85 L633.74,261.06 L638.12,262.2 L642.51,263.28 L646.89,264.29 L651.28,265.24 L655.66,266.13 L660.05,266.95" fill="none" stroke="#f5ac2a" stroke-width="1.15" stroke-linejoin="round" stroke-linecap="round" />
<line x1="453.05" y1="73.7" x2="453.05" y2="100.7" stroke="#555555" stroke-width="1.2" />
<line x1="504.8" y1="93.7" x2="504.8" y2="110.7" stroke="#555555" stroke-width="1.2" />
<line x1="556.55" y1="107.2" x2="556.55" y2="122.2" stroke="#555555" stroke-width="1.2" />
<line x1="608.3" y1="115.45" x2="608.3" y2="138.95" stroke="#555555" stroke-width="1.2" />
<line x1="660.05" y1="125.45" x2="660.05" y2="143.95" stroke="#555555" stroke-width="1.2" />
<line x1="453.05" y1="107.95" x2="453.05" y2="141.45" stroke="#555555" stroke-width="1.2" />
<line x1="504.8" y1="180.2" x2="504.8" y2="204.2" stroke="#555555" stroke-width="1.2" />
<line x1="556.55" y1="221.45" x2="556.55" y2="237.95" stroke="#555555" stroke-width="1.2" />
<line x1="608.3" y1="247.45" x2="608.3" y2="261.95" stroke="#555555" stroke-width="1.2" />
<polygon points="401.3,31.5 406.24,34.35 406.24,40.05 401.3,42.9 396.36,40.05 396.36,34.35" fill="#dc2b24"/>
<polygon points="453.05,34.5 457.99,37.35 457.99,43.05 453.05,45.9 448.11,43.05 448.11,37.35" fill="#dc2b24"/>
<polygon points="504.8,37 509.74,39.85 509.74,45.55 504.8,48.4 499.86,45.55 499.86,39.85" fill="#dc2b24"/>
<polygon points="556.55,38.25 561.49,41.1 561.49,46.8 556.55,49.65 551.61,46.8 551.61,41.1" fill="#dc2b24"/>
<polygon points="608.3,39.5 613.24,42.35 613.24,48.05 608.3,50.9 603.36,48.05 603.36,42.35" fill="#dc2b24"/>
<polygon points="660.05,40.5 664.99,43.35 664.99,49.05 660.05,51.9 655.11,49.05 655.11,43.35" fill="#dc2b24"/>
<rect x="396.7" y="32.6" width="9.2" height="9.2" fill="#f5aa1c"/>
<rect x="448.45" y="120.1" width="9.2" height="9.2" fill="#f5aa1c"/>
<rect x="500.2" y="187.6" width="9.2" height="9.2" fill="#f5aa1c"/>
<rect x="551.95" y="225.1" width="9.2" height="9.2" fill="#f5aa1c"/>
<rect x="603.7" y="250.1" width="9.2" height="9.2" fill="#f5aa1c"/>
<rect x="655.45" y="262.6" width="9.2" height="9.2" fill="#f5aa1c"/>
<circle cx="401.3" cy="37.2" r="5.3" fill="#364da0"/>
<circle cx="453.05" cy="87.2" r="5.3" fill="#364da0"/>
<circle cx="504.8" cy="102.2" r="5.3" fill="#364da0"/>
<circle cx="556.55" cy="114.7" r="5.3" fill="#364da0"/>
<circle cx="608.3" cy="127.2" r="5.3" fill="#364da0"/>
<circle cx="660.05" cy="134.7" r="5.3" fill="#364da0"/>
<line x1="449.55" y1="73.7" x2="456.55" y2="73.7" stroke="#555555" stroke-width="1.2" />
<line x1="449.55" y1="100.7" x2="456.55" y2="100.7" stroke="#555555" stroke-width="1.2" />
<line x1="501.3" y1="93.7" x2="508.3" y2="93.7" stroke="#555555" stroke-width="1.2" />
<line x1="501.3" y1="110.7" x2="508.3" y2="110.7" stroke="#555555" stroke-width="1.2" />
<line x1="553.05" y1="107.2" x2="560.05" y2="107.2" stroke="#555555" stroke-width="1.2" />
<line x1="553.05" y1="122.2" x2="560.05" y2="122.2" stroke="#555555" stroke-width="1.2" />
<line x1="604.8" y1="115.45" x2="611.8" y2="115.45" stroke="#555555" stroke-width="1.2" />
<line x1="604.8" y1="138.95" x2="611.8" y2="138.95" stroke="#555555" stroke-width="1.2" />
<line x1="656.55" y1="125.45" x2="663.55" y2="125.45" stroke="#555555" stroke-width="1.2" />
<line x1="656.55" y1="143.95" x2="663.55" y2="143.95" stroke="#555555" stroke-width="1.2" />
<line x1="449.55" y1="107.95" x2="456.55" y2="107.95" stroke="#555555" stroke-width="1.2" />
<line x1="449.55" y1="141.45" x2="456.55" y2="141.45" stroke="#555555" stroke-width="1.2" />
<line x1="501.3" y1="180.2" x2="508.3" y2="180.2" stroke="#555555" stroke-width="1.2" />
<line x1="501.3" y1="204.2" x2="508.3" y2="204.2" stroke="#555555" stroke-width="1.2" />
<line x1="553.05" y1="221.45" x2="560.05" y2="221.45" stroke="#555555" stroke-width="1.2" />
<line x1="553.05" y1="237.95" x2="560.05" y2="237.95" stroke="#555555" stroke-width="1.2" />
<line x1="604.8" y1="247.45" x2="611.8" y2="247.45" stroke="#555555" stroke-width="1.2" />
<line x1="604.8" y1="261.95" x2="611.8" y2="261.95" stroke="#555555" stroke-width="1.2" />
<rect x="397.7" y="7.7" width="279.5" height="279.5" fill="none" stroke="#5e5e5e" stroke-width="1.1"/>
<line x1="397.7" y1="287.2" x2="402.7" y2="287.2" stroke="#5e5e5e" stroke-width="1.1" />
<text x="391.4" y="291.9" font-size="15" text-anchor="end" >0.0</text>
<line x1="397.7" y1="262.2" x2="400.3" y2="262.2" stroke="#5e5e5e" stroke-width="1.1" />
<line x1="397.7" y1="237.2" x2="402.7" y2="237.2" stroke="#5e5e5e" stroke-width="1.1" />
<text x="391.4" y="241.9" font-size="15" text-anchor="end" >0.2</text>
<line x1="397.7" y1="212.2" x2="400.3" y2="212.2" stroke="#5e5e5e" stroke-width="1.1" />
<line x1="397.7" y1="187.2" x2="402.7" y2="187.2" stroke="#5e5e5e" stroke-width="1.1" />
<text x="391.4" y="191.9" font-size="15" text-anchor="end" >0.4</text>
<line x1="397.7" y1="162.2" x2="400.3" y2="162.2" stroke="#5e5e5e" stroke-width="1.1" />
<line x1="397.7" y1="137.2" x2="402.7" y2="137.2" stroke="#5e5e5e" stroke-width="1.1" />
<text x="391.4" y="141.9" font-size="15" text-anchor="end" >0.6</text>
<line x1="397.7" y1="112.2" x2="400.3" y2="112.2" stroke="#5e5e5e" stroke-width="1.1" />
<line x1="397.7" y1="87.2" x2="402.7" y2="87.2" stroke="#5e5e5e" stroke-width="1.1" />
<text x="391.4" y="91.9" font-size="15" text-anchor="end" >0.8</text>
<line x1="397.7" y1="62.2" x2="400.3" y2="62.2" stroke="#5e5e5e" stroke-width="1.1" />
<line x1="397.7" y1="37.2" x2="402.7" y2="37.2" stroke="#5e5e5e" stroke-width="1.1" />
<text x="391.4" y="41.9" font-size="15" text-anchor="end" >1.0</text>
<line x1="397.7" y1="12.2" x2="400.3" y2="12.2" stroke="#5e5e5e" stroke-width="1.1" />
<line x1="401.3" y1="287.2" x2="401.3" y2="292.2" stroke="#5e5e5e" stroke-width="1.1" />
<text x="401.3" y="308.2" font-size="15" text-anchor="middle" >0</text>
<line x1="435.8" y1="287.2" x2="435.8" y2="289.8" stroke="#5e5e5e" stroke-width="1.1" />
<line x1="470.3" y1="287.2" x2="470.3" y2="292.2" stroke="#5e5e5e" stroke-width="1.1" />
<text x="470.3" y="308.2" font-size="15" text-anchor="middle" >20</text>
<line x1="504.8" y1="287.2" x2="504.8" y2="289.8" stroke="#5e5e5e" stroke-width="1.1" />
<line x1="539.3" y1="287.2" x2="539.3" y2="292.2" stroke="#5e5e5e" stroke-width="1.1" />
<text x="539.3" y="308.2" font-size="15" text-anchor="middle" >40</text>
<line x1="573.8" y1="287.2" x2="573.8" y2="289.8" stroke="#5e5e5e" stroke-width="1.1" />
<line x1="608.3" y1="287.2" x2="608.3" y2="292.2" stroke="#5e5e5e" stroke-width="1.1" />
<text x="608.3" y="308.2" font-size="15" text-anchor="middle" >60</text>
<line x1="642.8" y1="287.2" x2="642.8" y2="289.8" stroke="#5e5e5e" stroke-width="1.1" />
<line x1="677.3" y1="287.2" x2="677.3" y2="292.2" stroke="#5e5e5e" stroke-width="1.1" />
<text x="677.3" y="308.2" font-size="15" text-anchor="middle" >80</text>
<text x="537.4" y="323" font-size="15" text-anchor="middle" >Time (min)</text>
<text x="0" y="0" font-size="15" text-anchor="middle" transform="translate(361,146.5) rotate(-90)">H<tspan font-size="9" dy="5">2</tspan><tspan dy="-5">O</tspan><tspan font-size="9" dy="5">2</tspan><tspan dy="-5"> degradation (C/C</tspan><tspan font-size="9" dy="5">0</tspan><tspan dy="-5">)</tspan></text>
<polygon points="419.9,210.8 424.84,213.65 424.84,219.35 419.9,222.2 414.96,219.35 414.96,213.65" fill="#dc2b24"/>
<circle cx="419.9" cy="238.5" r="5.3" fill="#364da0"/>
<rect x="415.3" y="256.4" width="9.2" height="9.2" fill="#f5aa1c"/>
<text x="441" y="221.6" font-size="15" text-anchor="start" >Pd<tspan font-size="9.5" dy="5">1</tspan><tspan dy="-5">/A-aUiO</tspan></text>
<text x="441" y="243.6" font-size="15" text-anchor="start" >Pd<tspan font-size="9.5" dy="5">x</tspan><tspan dy="-5">/A-aUiO</tspan></text>
<text x="441" y="265.8" font-size="15" text-anchor="start" >PdNPs/A-aUiO</text>
<text x="5.75" y="350" font-size="18" text-anchor="start" font-weight="bold" style="stroke-width:0" >c</text>
<path d="M53.4,619.06 L58.63,614.08 L63.87,609.04 L69.11,603.96 L74.34,598.83 L79.58,593.65 L84.81,588.45 L90.05,583.21 L95.28,577.95 L100.52,572.66 L105.75,567.36 L110.98,562.05 L116.22,556.73 L121.46,551.4 L126.69,546.08 L131.93,540.77 L137.16,535.47 L142.4,530.18 L147.63,524.91 L152.87,519.67 L158.1,514.46 L163.34,509.28 L168.57,504.14 L173.81,499.05 L179.04,494 L184.28,489.01 L189.51,484.08 L194.75,479.21 L199.98,474.4 L205.22,469.67 L210.45,465.01 L215.69,460.44 L220.92,455.95 L226.16,451.55 L231.39,447.25 L236.63,443.05 L241.86,438.95 L247.1,434.96 L252.33,431.09 L257.56,427.33 L262.8,423.7 L268.04,420.19 L273.27,416.82 L278.5,413.58 L283.74,410.49 L288.98,407.54 L294.21,404.75 L299.44,402.11 L304.68,399.63" fill="none" stroke="#dd3330" stroke-width="1.15" stroke-linejoin="round" stroke-linecap="round" />
<path d="M53.4,619.1 L58.63,616.29 L63.87,613.55 L69.11,610.87 L74.34,608.26 L79.58,605.72 L84.81,603.24 L90.05,600.82 L95.28,598.46 L100.52,596.16 L105.75,593.93 L110.98,591.75 L116.22,589.63 L121.46,587.57 L126.69,585.57 L131.93,583.62 L137.16,581.73 L142.4,579.89 L147.63,578.11 L152.87,576.38 L158.1,574.7 L163.34,573.08 L168.57,571.5 L173.81,569.97 L179.04,568.49 L184.28,567.06 L189.51,565.68 L194.75,564.34 L199.98,563.05 L205.22,561.81 L210.45,560.61 L215.69,559.45 L220.92,558.33 L226.16,557.26 L231.39,556.22 L236.63,555.23 L241.86,554.27 L247.1,553.35 L252.33,552.47 L257.56,551.63 L262.8,550.82 L268.04,550.05 L273.27,549.31 L278.5,548.6 L283.74,547.93 L288.98,547.29 L294.21,546.68 L299.44,546.1 L304.68,545.55" fill="none" stroke="#3d55a8" stroke-width="1.15" stroke-linejoin="round" stroke-linecap="round" />
<path d="M53.4,619.37 L58.63,618.37 L63.87,617.4 L69.11,616.47 L74.34,615.57 L79.58,614.7 L84.81,613.86 L90.05,613.05 L95.28,612.27 L100.52,611.52 L105.75,610.8 L110.98,610.11 L116.22,609.44 L121.46,608.81 L126.69,608.2 L131.93,607.62 L137.16,607.07 L142.4,606.54 L147.63,606.04 L152.87,605.57 L158.1,605.12 L163.34,604.7 L168.57,604.3 L173.81,603.92 L179.04,603.57 L184.28,603.25 L189.51,602.95 L194.75,602.67 L199.98,602.41 L205.22,602.17 L210.45,601.96 L215.69,601.77 L220.92,601.59 L226.16,601.44 L231.39,601.31 L236.63,601.2 L241.86,601.11 L247.1,601.04 L252.33,600.99 L257.56,600.95 L262.8,600.94 L268.04,600.94 L273.27,600.96 L278.5,600.99 L283.74,601.04 L288.98,601.11 L294.21,601.2 L299.44,601.3 L304.68,601.41" fill="none" stroke="#f5ac2a" stroke-width="1.15" stroke-linejoin="round" stroke-linecap="round" />
<path d="M53.4,619.23 L58.63,619.02 L63.87,618.81 L69.11,618.6 L74.34,618.38 L79.58,618.16 L84.81,617.94 L90.05,617.71 L95.28,617.49 L100.52,617.26 L105.75,617.03 L110.98,616.81 L116.22,616.58 L121.46,616.34 L126.69,616.11 L131.93,615.88 L137.16,615.64 L142.4,615.41 L147.63,615.17 L152.87,614.94 L158.1,614.7 L163.34,614.46 L168.57,614.23 L173.81,613.99 L179.04,613.75 L184.28,613.51 L189.51,613.28 L194.75,613.04 L199.98,612.8 L205.22,612.57 L210.45,612.33 L215.69,612.1 L220.92,611.86 L226.16,611.63 L231.39,611.4 L236.63,611.17 L241.86,610.94 L247.1,610.71 L252.33,610.48 L257.56,610.26 L262.8,610.03 L268.04,609.81 L273.27,609.59 L278.5,609.37 L283.74,609.16 L288.98,608.94 L294.21,608.73 L299.44,608.52 L304.68,608.31" fill="none" stroke="#a6d05a" stroke-width="1.15" stroke-linejoin="round" stroke-linecap="round" />
<line x1="95.28" y1="573.07" x2="95.28" y2="582.9" stroke="#555555" stroke-width="1.2" />
<line x1="137.16" y1="528.62" x2="137.16" y2="541.17" stroke="#555555" stroke-width="1.2" />
<line x1="179.04" y1="484.16" x2="179.04" y2="502.15" stroke="#555555" stroke-width="1.2" />
<line x1="220.92" y1="450.06" x2="220.92" y2="468.89" stroke="#555555" stroke-width="1.2" />
<line x1="262.8" y1="409.58" x2="262.8" y2="431.34" stroke="#555555" stroke-width="1.2" />
<line x1="304.68" y1="388.66" x2="304.68" y2="412.51" stroke="#555555" stroke-width="1.2" />
<line x1="95.28" y1="595.77" x2="95.28" y2="601.21" stroke="#555555" stroke-width="1.2" />
<line x1="137.16" y1="576.31" x2="137.16" y2="585.73" stroke="#555555" stroke-width="1.2" />
<line x1="179.04" y1="562.51" x2="179.04" y2="575.48" stroke="#555555" stroke-width="1.2" />
<line x1="220.92" y1="552.15" x2="220.92" y2="566.38" stroke="#555555" stroke-width="1.2" />
<line x1="262.8" y1="544.1" x2="262.8" y2="554.98" stroke="#555555" stroke-width="1.2" />
<line x1="304.68" y1="538.03" x2="304.68" y2="553.93" stroke="#555555" stroke-width="1.2" />
<polygon points="53.4,613.5 58.34,616.35 58.34,622.05 53.4,624.9 48.46,622.05 48.46,616.35" fill="#dc2b24"/>
<polygon points="95.28,572.29 100.22,575.14 100.22,580.84 95.28,583.69 90.34,580.84 90.34,575.14" fill="#dc2b24"/>
<polygon points="137.16,529.19 142.1,532.04 142.1,537.74 137.16,540.59 132.22,537.74 132.22,532.04" fill="#dc2b24"/>
<polygon points="179.04,487.46 183.98,490.31 183.98,496.01 179.04,498.86 174.1,496.01 174.1,490.31" fill="#dc2b24"/>
<polygon points="220.92,453.78 225.86,456.63 225.86,462.33 220.92,465.18 215.98,462.33 215.98,456.63" fill="#dc2b24"/>
<polygon points="262.8,414.76 267.74,417.61 267.74,423.31 262.8,426.16 257.86,423.31 257.86,417.61" fill="#dc2b24"/>
<polygon points="304.68,394.89 309.62,397.74 309.62,403.44 304.68,406.29 299.74,403.44 299.74,397.74" fill="#dc2b24"/>
<circle cx="53.4" cy="619.2" r="5.3" fill="#364da0"/>
<circle cx="95.28" cy="598.49" r="5.3" fill="#364da0"/>
<circle cx="137.16" cy="581.02" r="5.3" fill="#364da0"/>
<circle cx="179.04" cy="568.99" r="5.3" fill="#364da0"/>
<circle cx="220.92" cy="559.26" r="5.3" fill="#364da0"/>
<circle cx="262.8" cy="549.54" r="5.3" fill="#364da0"/>
<circle cx="304.68" cy="545.98" r="5.3" fill="#364da0"/>
<rect x="48.8" y="614.6" width="9.2" height="9.2" fill="#f5aa1c"/>
<rect x="90.68" y="608.01" width="9.2" height="9.2" fill="#f5aa1c"/>
<rect x="132.56" y="602.57" width="9.2" height="9.2" fill="#f5aa1c"/>
<rect x="174.44" y="598.49" width="9.2" height="9.2" fill="#f5aa1c"/>
<rect x="216.32" y="596.92" width="9.2" height="9.2" fill="#f5aa1c"/>
<rect x="258.2" y="596.82" width="9.2" height="9.2" fill="#f5aa1c"/>
<rect x="300.08" y="596.61" width="9.2" height="9.2" fill="#f5aa1c"/>
<polygon points="53.4,613.4 58.92,617.41 56.81,623.89 49.99,623.89 47.88,617.41" fill="#a9cf52"/>
<polygon points="95.28,611.73 100.8,615.73 98.69,622.22 91.87,622.22 89.76,615.73" fill="#a9cf52"/>
<polygon points="137.16,609.95 142.68,613.96 140.57,620.44 133.75,620.44 131.64,613.96" fill="#a9cf52"/>
<polygon points="179.04,607.86 184.56,611.86 182.45,618.35 175.63,618.35 173.52,611.86" fill="#a9cf52"/>
<polygon points="220.92,605.87 226.44,609.88 224.33,616.36 217.51,616.36 215.4,609.88" fill="#a9cf52"/>
<polygon points="262.8,604.51 268.32,608.52 266.21,615 259.39,615 257.28,608.52" fill="#a9cf52"/>
<polygon points="304.68,602.42 310.2,606.42 308.09,612.91 301.27,612.91 299.16,606.42" fill="#a9cf52"/>
<line x1="91.78" y1="573.07" x2="98.78" y2="573.07" stroke="#555555" stroke-width="1.2" />
<line x1="91.78" y1="582.9" x2="98.78" y2="582.9" stroke="#555555" stroke-width="1.2" />
<line x1="133.66" y1="528.62" x2="140.66" y2="528.62" stroke="#555555" stroke-width="1.2" />
<line x1="133.66" y1="541.17" x2="140.66" y2="541.17" stroke="#555555" stroke-width="1.2" />
<line x1="175.54" y1="484.16" x2="182.54" y2="484.16" stroke="#555555" stroke-width="1.2" />
<line x1="175.54" y1="502.15" x2="182.54" y2="502.15" stroke="#555555" stroke-width="1.2" />
<line x1="217.42" y1="450.06" x2="224.42" y2="450.06" stroke="#555555" stroke-width="1.2" />
<line x1="217.42" y1="468.89" x2="224.42" y2="468.89" stroke="#555555" stroke-width="1.2" />
<line x1="259.3" y1="409.58" x2="266.3" y2="409.58" stroke="#555555" stroke-width="1.2" />
<line x1="259.3" y1="431.34" x2="266.3" y2="431.34" stroke="#555555" stroke-width="1.2" />
<line x1="301.18" y1="388.66" x2="308.18" y2="388.66" stroke="#555555" stroke-width="1.2" />
<line x1="301.18" y1="412.51" x2="308.18" y2="412.51" stroke="#555555" stroke-width="1.2" />
<line x1="91.78" y1="595.77" x2="98.78" y2="595.77" stroke="#555555" stroke-width="1.2" />
<line x1="91.78" y1="601.21" x2="98.78" y2="601.21" stroke="#555555" stroke-width="1.2" />
<line x1="133.66" y1="576.31" x2="140.66" y2="576.31" stroke="#555555" stroke-width="1.2" />
<line x1="133.66" y1="585.73" x2="140.66" y2="585.73" stroke="#555555" stroke-width="1.2" />
<line x1="175.54" y1="562.51" x2="182.54" y2="562.51" stroke="#555555" stroke-width="1.2" />
<line x1="175.54" y1="575.48" x2="182.54" y2="575.48" stroke="#555555" stroke-width="1.2" />
<line x1="217.42" y1="552.15" x2="224.42" y2="552.15" stroke="#555555" stroke-width="1.2" />
<line x1="217.42" y1="566.38" x2="224.42" y2="566.38" stroke="#555555" stroke-width="1.2" />
<line x1="259.3" y1="544.1" x2="266.3" y2="544.1" stroke="#555555" stroke-width="1.2" />
<line x1="259.3" y1="554.98" x2="266.3" y2="554.98" stroke="#555555" stroke-width="1.2" />
<line x1="301.18" y1="538.03" x2="308.18" y2="538.03" stroke="#555555" stroke-width="1.2" />
<line x1="301.18" y1="553.93" x2="308.18" y2="553.93" stroke="#555555" stroke-width="1.2" />
<rect x="47.3" y="346.7" width="278.5" height="278.6" fill="none" stroke="#5e5e5e" stroke-width="1.1"/>
<line x1="47.3" y1="619.2" x2="52.3" y2="619.2" stroke="#5e5e5e" stroke-width="1.1" />
<text x="41.2" y="623.7" font-size="15" text-anchor="end" >0</text>
<line x1="47.3" y1="593.05" x2="49.9" y2="593.05" stroke="#5e5e5e" stroke-width="1.1" />
<line x1="47.3" y1="566.9" x2="52.3" y2="566.9" stroke="#5e5e5e" stroke-width="1.1" />
<text x="41.2" y="571.4" font-size="15" text-anchor="end" >5</text>
<line x1="47.3" y1="540.75" x2="49.9" y2="540.75" stroke="#5e5e5e" stroke-width="1.1" />
<line x1="47.3" y1="514.6" x2="52.3" y2="514.6" stroke="#5e5e5e" stroke-width="1.1" />
<text x="41.2" y="519.1" font-size="15" text-anchor="end" >10</text>
<line x1="47.3" y1="488.45" x2="49.9" y2="488.45" stroke="#5e5e5e" stroke-width="1.1" />
<line x1="47.3" y1="462.3" x2="52.3" y2="462.3" stroke="#5e5e5e" stroke-width="1.1" />
<text x="41.2" y="466.8" font-size="15" text-anchor="end" >15</text>
<line x1="47.3" y1="436.15" x2="49.9" y2="436.15" stroke="#5e5e5e" stroke-width="1.1" />
<line x1="47.3" y1="410" x2="52.3" y2="410" stroke="#5e5e5e" stroke-width="1.1" />
<text x="41.2" y="414.5" font-size="15" text-anchor="end" >20</text>
<line x1="47.3" y1="383.85" x2="49.9" y2="383.85" stroke="#5e5e5e" stroke-width="1.1" />
<line x1="47.3" y1="357.7" x2="52.3" y2="357.7" stroke="#5e5e5e" stroke-width="1.1" />
<text x="41.2" y="362.2" font-size="15" text-anchor="end" >25</text>
<line x1="53.4" y1="625.3" x2="53.4" y2="630.3" stroke="#5e5e5e" stroke-width="1.1" />
<text x="53.4" y="646.8" font-size="15" text-anchor="middle" >0</text>
<line x1="74.34" y1="625.3" x2="74.34" y2="627.9" stroke="#5e5e5e" stroke-width="1.1" />
<line x1="95.28" y1="625.3" x2="95.28" y2="630.3" stroke="#5e5e5e" stroke-width="1.1" />
<text x="95.28" y="646.8" font-size="15" text-anchor="middle" >2</text>
<line x1="116.22" y1="625.3" x2="116.22" y2="627.9" stroke="#5e5e5e" stroke-width="1.1" />
<line x1="137.16" y1="625.3" x2="137.16" y2="630.3" stroke="#5e5e5e" stroke-width="1.1" />
<text x="137.16" y="646.8" font-size="15" text-anchor="middle" >4</text>
<line x1="158.1" y1="625.3" x2="158.1" y2="627.9" stroke="#5e5e5e" stroke-width="1.1" />
<line x1="179.04" y1="625.3" x2="179.04" y2="630.3" stroke="#5e5e5e" stroke-width="1.1" />
<text x="179.04" y="646.8" font-size="15" text-anchor="middle" >6</text>
<line x1="199.98" y1="625.3" x2="199.98" y2="627.9" stroke="#5e5e5e" stroke-width="1.1" />
<line x1="220.92" y1="625.3" x2="220.92" y2="630.3" stroke="#5e5e5e" stroke-width="1.1" />
<text x="220.92" y="646.8" font-size="15" text-anchor="middle" >8</text>
<line x1="241.86" y1="625.3" x2="241.86" y2="627.9" stroke="#5e5e5e" stroke-width="1.1" />
<line x1="262.8" y1="625.3" x2="262.8" y2="630.3" stroke="#5e5e5e" stroke-width="1.1" />
<text x="262.8" y="646.8" font-size="15" text-anchor="middle" >10</text>
<line x1="283.74" y1="625.3" x2="283.74" y2="627.9" stroke="#5e5e5e" stroke-width="1.1" />
<line x1="304.68" y1="625.3" x2="304.68" y2="630.3" stroke="#5e5e5e" stroke-width="1.1" />
<text x="304.68" y="646.8" font-size="15" text-anchor="middle" >12</text>
<line x1="325.62" y1="625.3" x2="325.62" y2="627.9" stroke="#5e5e5e" stroke-width="1.1" />
<text x="186.6" y="661.7" font-size="15" text-anchor="middle" >Time (h)</text>
<text x="0" y="0" font-size="15" text-anchor="middle" transform="translate(13.9,486.2) rotate(-90)">H<tspan font-size="9.5" dy="5">2</tspan><tspan dy="-5">O</tspan><tspan font-size="9.5" dy="5">2</tspan><tspan dy="-5"> evolution (mmol g</tspan><tspan font-size="9.5" dy="-7">-1</tspan><tspan dy="7">)</tspan></text>
<polygon points="78.7,366.3 83.64,369.15 83.64,374.85 78.7,377.7 73.76,374.85 73.76,369.15" fill="#dc2b24"/>
<circle cx="78.7" cy="394.7" r="5.3" fill="#364da0"/>
<rect x="74.1" y="412.3" width="9.2" height="9.2" fill="#f5aa1c"/>
<polygon points="78.7,428.8 84.22,432.81 82.11,439.29 75.29,439.29 73.18,432.81" fill="#a9cf52"/>
<text x="99.5" y="377.2" font-size="15" text-anchor="start" >Pd<tspan font-size="9.5" dy="5">1</tspan><tspan dy="-5">/A-aUiO</tspan></text>
<text x="99.5" y="399.4" font-size="15" text-anchor="start" >Pd<tspan font-size="9.5" dy="5">x</tspan><tspan dy="-5">/A-aUiO</tspan></text>
<text x="99.5" y="421.6" font-size="15" text-anchor="start" >PdNPs/A-aUiO</text>
<text x="99.5" y="439.6" font-size="15" text-anchor="start" >Bare A-aUiO</text>
<text x="354.5" y="351" font-size="18.5" text-anchor="start" font-weight="bold" style="stroke-width:0" >d</text>
<clipPath id="cb"><rect x="481" y="585.27" width="24.4" height="41.12"/></clipPath>
<path d="M441.07,583.27 L486.2,628.4 M448.67,583.27 L493.8,628.4 M484.52,583.27 L439.4,628.4 M456.27,583.27 L501.4,628.4 M492.12,583.27 L447,628.4 M463.88,583.27 L509,628.4 M499.73,583.27 L454.6,628.4 M471.48,583.27 L516.6,628.4 M507.32,583.27 L462.2,628.4 M479.07,583.27 L524.2,628.4 M514.92,583.27 L469.8,628.4 M486.67,583.27 L531.8,628.4 M522.52,583.27 L477.4,628.4 M494.27,583.27 L539.4,628.4 M530.12,583.27 L485,628.4 M501.88,583.27 L547,628.4 M537.73,583.27 L492.6,628.4 M545.32,583.27 L500.2,628.4 " stroke="#364da0" stroke-width="1.1" fill="none" clip-path="url(#cb)"/>
<rect x="481" y="585.27" width="24.4" height="41.12" fill="none" stroke="#364da0" stroke-width="1.2"/>
<line x1="493.2" y1="580.34" x2="493.2" y2="590.21" stroke="#555555" stroke-width="1.2" />
<line x1="489.7" y1="580.34" x2="496.7" y2="580.34" stroke="#555555" stroke-width="1.2" />
<line x1="489.7" y1="590.21" x2="496.7" y2="590.21" stroke="#555555" stroke-width="1.2" />
<clipPath id="cr"><rect x="577.3" y="382" width="24.4" height="244.4"/></clipPath>
<path d="M332.3,380 L580.7,628.4 M339.9,380 L588.3,628.4 M347.5,380 L595.9,628.4 M355.1,380 L603.5,628.4 M362.7,380 L611.1,628.4 M370.3,380 L618.7,628.4 M377.9,380 L626.3,628.4 M385.5,380 L633.9,628.4 M393.1,380 L641.5,628.4 M400.7,380 L649.1,628.4 M408.3,380 L656.7,628.4 M415.9,380 L664.3,628.4 M423.5,380 L671.9,628.4 M431.1,380 L679.5,628.4 M438.7,380 L687.1,628.4 M446.3,380 L694.7,628.4 M453.9,380 L702.3,628.4 M461.5,380 L709.9,628.4 M469.1,380 L717.5,628.4 M476.7,380 L725.1,628.4 M484.3,380 L732.7,628.4 M491.9,380 L740.3,628.4 M499.5,380 L747.9,628.4 M507.1,380 L755.5,628.4 M514.7,380 L763.1,628.4 M522.3,380 L770.7,628.4 M529.9,380 L778.3,628.4 M580.7,380 L332.3,628.4 M537.5,380 L785.9,628.4 M588.3,380 L339.9,628.4 M545.1,380 L793.5,628.4 M595.9,380 L347.5,628.4 M552.7,380 L801.1,628.4 M603.5,380 L355.1,628.4 M560.3,380 L808.7,628.4 M611.1,380 L362.7,628.4 M567.9,380 L816.3,628.4 M618.7,380 L370.3,628.4 M575.5,380 L823.9,628.4 M626.3,380 L377.9,628.4 M583.1,380 L831.5,628.4 M633.9,380 L385.5,628.4 M590.7,380 L839.1,628.4 M641.5,380 L393.1,628.4 M598.3,380 L846.7,628.4 M649.1,380 L400.7,628.4 M656.7,380 L408.3,628.4 M664.3,380 L415.9,628.4 M671.9,380 L423.5,628.4 M679.5,380 L431.1,628.4 M687.1,380 L438.7,628.4 M694.7,380 L446.3,628.4 M702.3,380 L453.9,628.4 M709.9,380 L461.5,628.4 M717.5,380 L469.1,628.4 M725.1,380 L476.7,628.4 M732.7,380 L484.3,628.4 M740.3,380 L491.9,628.4 M747.9,380 L499.5,628.4 M755.5,380 L507.1,628.4 M763.1,380 L514.7,628.4 M770.7,380 L522.3,628.4 M778.3,380 L529.9,628.4 M785.9,380 L537.5,628.4 M793.5,380 L545.1,628.4 M801.1,380 L552.7,628.4 M808.7,380 L560.3,628.4 M816.3,380 L567.9,628.4 M823.9,380 L575.5,628.4 M831.5,380 L583.1,628.4 M839.1,380 L590.7,628.4 M846.7,380 L598.3,628.4 " stroke="#dc2b24" stroke-width="1.1" fill="none" clip-path="url(#cr)"/>
<rect x="577.3" y="382" width="24.4" height="244.4" fill="none" stroke="#dc2b24" stroke-width="1.2"/>
<line x1="589.5" y1="368.6" x2="589.5" y2="395.39" stroke="#555555" stroke-width="1.2" />
<line x1="586" y1="368.6" x2="593" y2="368.6" stroke="#555555" stroke-width="1.2" />
<line x1="586" y1="395.39" x2="593" y2="395.39" stroke="#555555" stroke-width="1.2" />
<rect x="396.8" y="346.8" width="279.6" height="279.6" fill="none" stroke="#5e5e5e" stroke-width="1.1"/>
<line x1="396.8" y1="626.4" x2="401.8" y2="626.4" stroke="#5e5e5e" stroke-width="1.1" />
<text x="390.5" y="630.9" font-size="15" text-anchor="end" >0</text>
<line x1="396.8" y1="602.9" x2="399.4" y2="602.9" stroke="#5e5e5e" stroke-width="1.1" />
<line x1="396.8" y1="579.4" x2="401.8" y2="579.4" stroke="#5e5e5e" stroke-width="1.1" />
<text x="390.5" y="583.9" font-size="15" text-anchor="end" >2</text>
<line x1="396.8" y1="555.9" x2="399.4" y2="555.9" stroke="#5e5e5e" stroke-width="1.1" />
<line x1="396.8" y1="532.4" x2="401.8" y2="532.4" stroke="#5e5e5e" stroke-width="1.1" />
<text x="390.5" y="536.9" font-size="15" text-anchor="end" >4</text>
<line x1="396.8" y1="508.9" x2="399.4" y2="508.9" stroke="#5e5e5e" stroke-width="1.1" />
<line x1="396.8" y1="485.4" x2="401.8" y2="485.4" stroke="#5e5e5e" stroke-width="1.1" />
<text x="390.5" y="489.9" font-size="15" text-anchor="end" >6</text>
<line x1="396.8" y1="461.9" x2="399.4" y2="461.9" stroke="#5e5e5e" stroke-width="1.1" />
<line x1="396.8" y1="438.4" x2="401.8" y2="438.4" stroke="#5e5e5e" stroke-width="1.1" />
<text x="390.5" y="442.9" font-size="15" text-anchor="end" >8</text>
<line x1="396.8" y1="414.9" x2="399.4" y2="414.9" stroke="#5e5e5e" stroke-width="1.1" />
<line x1="396.8" y1="391.4" x2="401.8" y2="391.4" stroke="#5e5e5e" stroke-width="1.1" />
<text x="390.5" y="395.9" font-size="15" text-anchor="end" >10</text>
<line x1="396.8" y1="367.9" x2="399.4" y2="367.9" stroke="#5e5e5e" stroke-width="1.1" />
<text x="493.2" y="648.2" font-size="15.5" text-anchor="middle" >PiS</text>
<text x="589.9" y="648.2" font-size="15.5" text-anchor="middle" >GMG</text>
<text x="407" y="378.6" font-size="15" text-anchor="start" >O<tspan font-size="9.5" dy="4.5">2</tspan><tspan dy="-4.5"> flow rates: 120 sccm</tspan></text>
<text x="0" y="0" font-size="15" text-anchor="middle" transform="translate(363,486.4) rotate(-90)">H<tspan font-size="9.5" dy="5">2</tspan><tspan dy="-5">O</tspan><tspan font-size="9.5" dy="5">2</tspan><tspan dy="-5"> yield (mmol g</tspan><tspan font-size="9.5" dy="-7">-1</tspan><tspan dy="7">h</tspan><tspan font-size="9.5" dy="-7">-1</tspan><tspan dy="7">)</tspan></text>
</svg>
</div></body></html>
